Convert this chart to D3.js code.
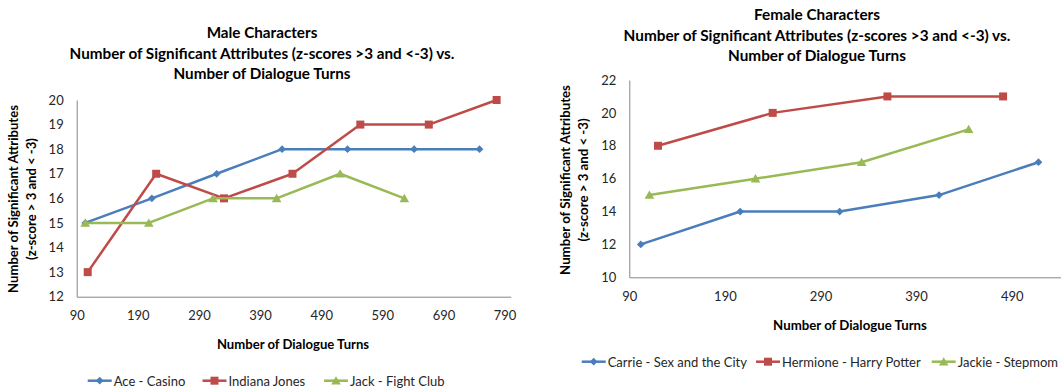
<!DOCTYPE html>
<html><head><meta charset="utf-8">
<script src="https://cdn.jsdelivr.net/npm/d3@7"></script>
<style>
body{margin:0;background:#fff;}
svg{display:block;font-family:Lato,"Open Sans",sans-serif;}
</style></head>
<body><svg id="c" width="1061" height="390"></svg>
<script>
// ---- Male panel data ----
const maleTitle = ["Male Characters","Number of Significant Attributes (z-scores >3 and <-3) vs.","Number of Dialogue Turns"];
const maleXTicks = [90,190,290,390,490,590,690,790];
const maleYTicks = [12,13,14,15,16,17,18,19,20];
const maleSeriesNames = ["Ace - Casino","Indiana Jones","Jack - Fight Club"];
const aceX = [104,213,319,426,533,642,749];
const aceY = [15,16,17,18,18,18,18];
const indianaX = [108,220,331,443,554,666,777];
const indianaY = [13,17,16,17,19,19,20];
const jackX = [104,208,313,417,521,626];
const jackY = [15,15,16,16,17,16];

// ---- Female panel data ----
const femaleTitle = ["Female Characters","Number of Significant Attributes (z-scores >3 and <-3) vs.","Number of Dialogue Turns"];
const femaleXTicks = [90,190,290,390,490];
const femaleYTicks = [10,12,14,16,18,20,22];
const femaleSeriesNames = ["Carrie - Sex and the City","Hermione - Harry Potter","Jackie - Stepmom"];
const carrieX = [102,206,310,414,518];
const carrieY = [12,14,14,15,17];
const hermioneX = [120,240,360,481];
const hermioneY = [18,20,21,21];
const jackieX = [111,222,333,445];
const jackieY = [15,16,17,19];

const yTitle = ["Number of Significant Attributes","(z-score > 3 and < -3)"];
const xTitle = "Number of Dialogue Turns";

const colors = ["#4A7EBB","#BE4B48","#98B954"];
const shapes = ["diamond","square","triangle"];

const svg = d3.select("#c");

function marker(g, shape, color, cx, cy){
  if(shape==="diamond"){
    g.append("path").attr("d", d3.symbol(d3.symbolSquare, 30)())
      .attr("transform",`translate(${cx},${cy}) rotate(45)`).attr("fill",color);
  } else if(shape==="square"){
    g.append("path").attr("d", d3.symbol(d3.symbolSquare, 64)())
      .attr("transform",`translate(${cx},${cy})`).attr("fill",color);
  } else {
    g.append("path").attr("d", d3.symbol(d3.symbolTriangle, 40)())
      .attr("transform",`translate(${cx},${cy+1})`).attr("fill",color);
  }
}

function fit(sel, w){
  sel.each(function(){
    const t=d3.select(this); let fs=parseFloat(t.attr("font-size"));
    const L=this.getComputedTextLength();
    t.attr("font-size", fs*w/L);
  });
}

function panel(o){
  const g = svg.append("g");
  const x = d3.scaleLinear().domain(o.xDomain).range([o.left,o.right]);
  const y = d3.scaleLinear().domain(o.yDomain).range([o.bottom,o.top]);
  // axes
  const ax = g.append("g").attr("transform",`translate(0,${o.bottom})`)
    .call(d3.axisBottom(x).tickValues(o.xTicks).tickSize(0).tickPadding(14).tickFormat(d3.format("d")));
  const ay = g.append("g").attr("transform",`translate(${o.left},0)`)
    .call(d3.axisLeft(y).tickValues(o.yTicks).tickSize(0).tickPadding(13).tickFormat(d3.format("d")));
  [ax,ay].forEach(a=>{
    a.select(".domain").attr("stroke","#868686").attr("stroke-width",1);
    a.selectAll("text").attr("font-size",13).attr("fill","#262626").attr("font-family","Lato");
  });
  // titles
  o.title.forEach((t,i)=>{
    const tt=g.append("text").attr("x",o.titleX).attr("y",o.titleY+i*20.5).attr("text-anchor","middle")
      .attr("font-weight","bold").attr("font-size",14).attr("fill","#000").text(t);
    if(i===1) fit(tt,o.titleW);
    else tt.attr("font-size", null);
  });
  // sync title font sizes
  const fsz = g.selectAll("text").filter(function(){return d3.select(this).attr("font-weight")==="bold";}).nodes()[1].getAttribute("font-size");
  g.selectAll("text").filter(function(){return d3.select(this).attr("font-weight")==="bold";}).attr("font-size",fsz);

  yTitle.forEach((t,i)=>{
    const tt=g.append("text").attr("transform",`translate(${o.yTitleX+i*18},${o.yTitleY}) rotate(-90)`)
      .attr("text-anchor","middle").attr("dominant-baseline","middle").attr("font-weight","bold").attr("font-size",12).attr("fill","#000").text(t);
    if(i===0) fit(tt,o.yTitleW);
  });
  const yfs = g.selectAll("text").nodes().slice(-2)[0].getAttribute("font-size");
  g.selectAll("text").nodes().slice(-1)[0].setAttribute("font-size",yfs);

  const xt=g.append("text").attr("x",o.xTitleX).attr("y",o.xTitleY).attr("text-anchor","middle").attr("dominant-baseline","middle")
    .attr("font-weight","bold").attr("font-size",12).attr("fill","#000").text(xTitle);
  xt.attr("font-size",yfs);

  // series
  const line = d3.line().x(d=>x(d[0])).y(d=>y(d[1]));
  o.series.forEach((s,i)=>{
    const pts = s.x.map((v,j)=>[v,s.y[j]]);
    g.append("path").datum(pts).attr("d",line).attr("fill","none").attr("stroke",colors[i]).attr("stroke-width",2.5).attr("stroke-linejoin","round");
    pts.forEach(p=>marker(g,shapes[i],colors[i],x(p[0]),y(p[1])));
  });
  // legend
  o.series.forEach((s,i)=>{
    const lx=o.legendX[i], ly=o.legendY;
    g.append("line").attr("x1",lx).attr("x2",lx+24).attr("y1",ly).attr("y2",ly).attr("stroke",colors[i]).attr("stroke-width",2.5);
    marker(g,shapes[i],colors[i],lx+12,ly);
    g.append("text").attr("x",lx+26).attr("y",ly).attr("dominant-baseline","central").attr("font-size",13).attr("fill","#262626").text(o.names[i]);
  });
}

panel({
  xDomain:[90,800], yDomain:[12,20], left:76.7, right:510.7, top:100, bottom:296.7,
  xTicks:maleXTicks, yTicks:maleYTicks, title:maleTitle, titleX:262, titleY:38, titleW:385,
  yTitleX:15, yTitleY:199, yTitleW:188, xTitleX:293, xTitleY:346,
  names:maleSeriesNames,
  series:[{x:aceX,y:aceY},{x:indianaX,y:indianaY},{x:jackX,y:jackY}],
  legendX:[87.7,202.5,324], legendY:380.7
});
panel({
  xDomain:[90,590], yDomain:[10,22], left:629.3, right:1107.3, top:80, bottom:277.3,
  xTicks:femaleXTicks, yTicks:femaleYTicks, title:femaleTitle, titleX:817, titleY:20, titleW:387,
  yTitleX:567, yTitleY:180, yTitleW:190, xTitleX:850, xTitleY:327,
  names:femaleSeriesNames,
  series:[{x:carrieX,y:carrieY},{x:hermioneX,y:hermioneY},{x:jackieX,y:jackieY}],
  legendX:[581.7,756,931.7], legendY:361.7
});
</script></body></html>
